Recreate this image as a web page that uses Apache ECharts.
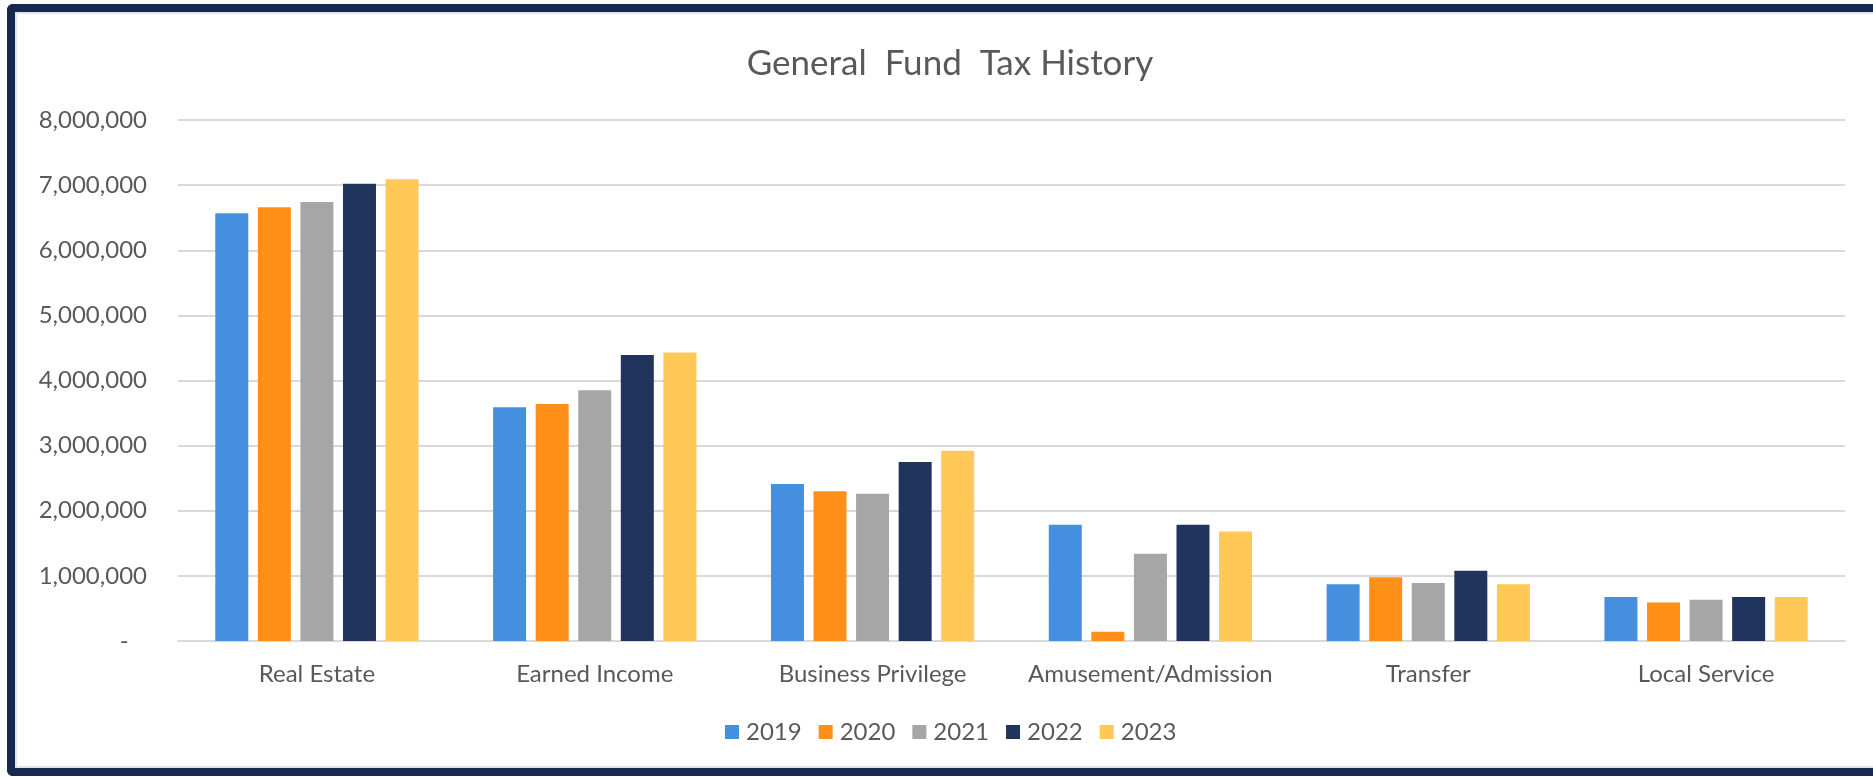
<!DOCTYPE html>
<html>
<head>
<meta charset="utf-8">
<script src="https://cdn.jsdelivr.net/npm/echarts@6/dist/echarts.min.js"></script>
<style>
  html, body { margin: 0; padding: 0; background: #ffffff; overflow: hidden; width: 1873px; height: 777px; }
  #frame { position: absolute; left: 7px; top: 4px; width: 1866px; height: 772px; box-sizing: border-box;
           border: 8px solid #16294F; border-right: none; border-radius: 6px 0 0 6px; background: #ffffff;
           box-shadow: inset 2px 2px 0 0 #E1E4E8, inset 0 -2px 0 0 #E1E4E8; }
  #chart { position: absolute; left: 0; top: 0; width: 1873px; height: 777px; }
</style>
</head>
<body>
<div id="frame"></div>
<div id="chart"></div>
<script>
const categories = ['Real Estate', 'Earned Income', 'Business Privilege', 'Amusement/Admission', 'Transfer', 'Local Service'];
const years = ['2019', '2020', '2021', '2022', '2023'];
const values2019 = [6570000, 3590000, 2410000, 1785000, 870000, 676000];
const values2020 = [6660000, 3640000, 2300000, 143000, 980000, 590000];
const values2021 = [6740000, 3850000, 2260000, 1340000, 890000, 634000];
const values2022 = [7020000, 4390000, 2750000, 1785000, 1080000, 676000];
const values2023 = [7090000, 4430000, 2920000, 1680000, 870000, 676000];
const seriesValues = [values2019, values2020, values2021, values2022, values2023];
const yTickMax = 8000000;
const yTickStep = 1000000;

const colors = ['#4590DE', '#FE9019', '#A6A6A6', '#21345D', '#FFC857'];
const font = 'Lato, "Open Sans", sans-serif';
const textColor = '#595959';

const chart = echarts.init(document.getElementById('chart'), null, { renderer: 'canvas' });
chart.setOption({
  backgroundColor: 'transparent',
  color: colors,
  animation: false,
  title: {
    text: 'General  Fund  Tax History',
    left: 945,
    textAlign: 'center',
    top: 41,
    textStyle: { fontFamily: font, fontSize: 35, fontWeight: 'normal', color: textColor }
  },
  legend: {
    data: years,
    left: 720,
    top: 715,
    icon: 'rect',
    itemWidth: 14,
    itemHeight: 14,
    itemGap: 17,
    textStyle: { fontFamily: font, fontSize: 24, color: textColor, padding: [0, 0, 0, 2] }
  },
  grid: { left: 178, right: 28, top: 120, bottom: 136, containLabel: false },
  xAxis: {
    type: 'category',
    data: categories,
    axisLine: { show: true, lineStyle: { color: '#D9D9D9', width: 2 } },
    axisTick: { show: false },
    axisLabel: { fontFamily: font, fontSize: 24, color: textColor, margin: 21, interval: 0 }
  },
  yAxis: {
    type: 'value',
    min: 0,
    max: yTickMax,
    interval: yTickStep,
    axisLine: { show: false },
    axisTick: { show: false },
    splitLine: { lineStyle: { color: '#D9D9D9', width: 2 } },
    axisLabel: {
      fontFamily: font, fontSize: 24, color: textColor, margin: 31,
      formatter: function (v) { return v === 0 ? '-   ' : v.toLocaleString('en-US'); }
    }
  },
  series: years.map((y, i) => ({
    name: y,
    type: 'bar',
    data: seriesValues[i],
    barWidth: 33,
    barGap: '29%',
    itemStyle: { color: colors[i] }
  }))
});
</script>
</body>
</html>
